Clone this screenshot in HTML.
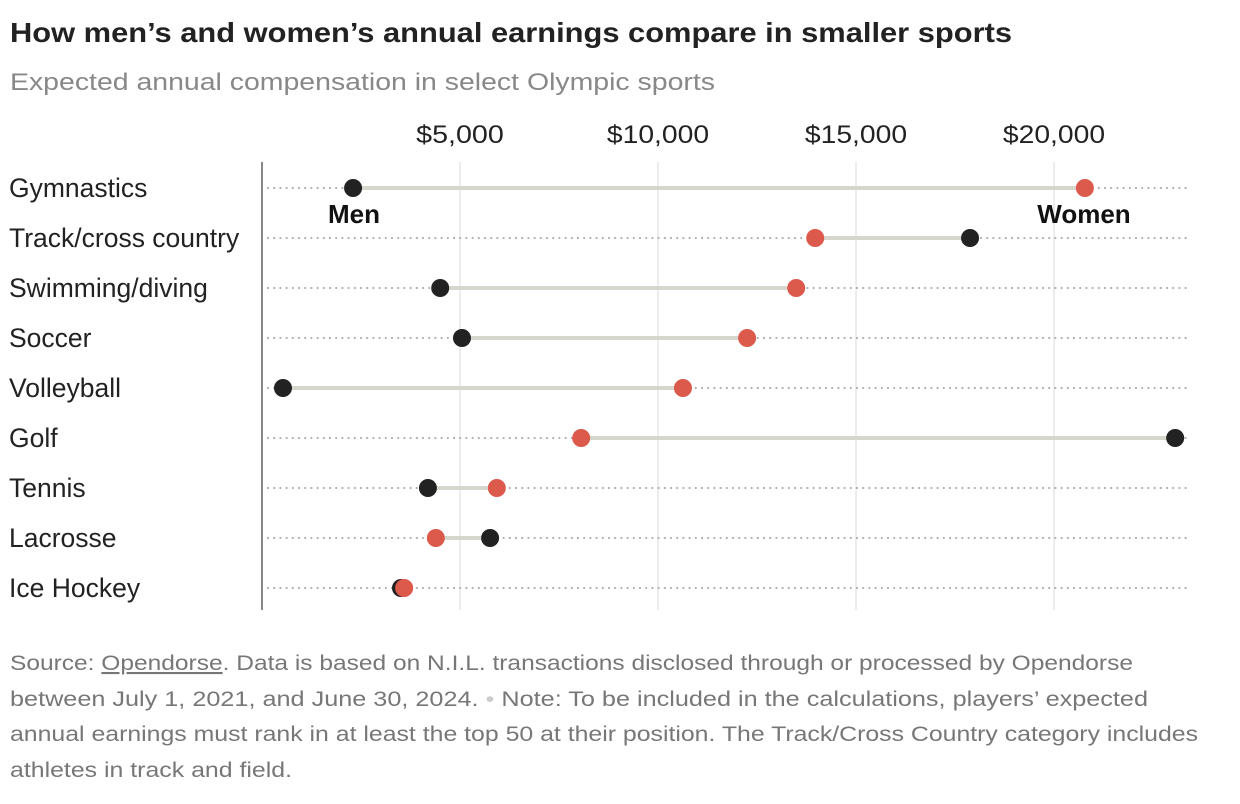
<!DOCTYPE html>
<html><head><meta charset="utf-8"><style>
body{margin:0;background:#fff;}
svg{display:block;font-family:"Liberation Sans",sans-serif;}
</style></head><body>
<svg id="chart" width="1240" height="804" viewBox="0 0 1240 804">
<text x="10" y="42" font-size="28" font-weight="bold" fill="#222" textLength="1002" lengthAdjust="spacingAndGlyphs">How men’s and women’s annual earnings compare in smaller sports</text>
<text x="10" y="90" font-size="24" fill="#888" textLength="705" lengthAdjust="spacingAndGlyphs">Expected annual compensation in select Olympic sports</text>
<g id="grid"></g><g id="rows"></g><g id="marks"></g>
<text x="354" y="223" font-size="26" font-weight="bold" fill="#111" text-anchor="middle">Men</text>
<text x="1084" y="223" font-size="26" font-weight="bold" fill="#111" text-anchor="middle">Women</text>
<g font-size="21" fill="#777">
<text x="10" y="670" textLength="1123" lengthAdjust="spacingAndGlyphs">Source: <tspan text-decoration="underline">Opendorse</tspan>. Data is based on N.I.L. transactions disclosed through or processed by Opendorse</text>
<text x="10" y="706" textLength="1138" lengthAdjust="spacingAndGlyphs">between July 1, 2021, and June 30, 2024. <tspan fill="#ccc">•</tspan> Note: To be included in the calculations, players’ expected</text>
<text x="10" y="741" textLength="1188" lengthAdjust="spacingAndGlyphs">annual earnings must rank in at least the top 50 at their position. The Track/Cross Country category includes</text>
<text x="10" y="777" textLength="282" lengthAdjust="spacingAndGlyphs">athletes in track and field.</text>
</g>
</svg>
<script>
const categories=["Gymnastics","Track/cross country","Swimming/diving","Soccer","Volleyball","Golf","Tennis","Lacrosse","Ice Hockey"];
const menValues=[2300,17880,4500,5050,530,23060,4190,5760,3510];
const womenValues=[20780,13970,13490,12250,10630,8060,5930,4390,3590];
const tickValues=[5000,10000,15000,20000];
const tickLabels=["$5,000","$10,000","$15,000","$20,000"];
const NS="http://www.w3.org/2000/svg";
const x=v=>262+v*0.0396;
const y=i=>188+i*50;
function mk(tag,attrs,parent,text){const e=document.createElementNS(NS,tag);for(const k in attrs)e.setAttribute(k,attrs[k]);if(text!==undefined)e.textContent=text;parent.appendChild(e);return e;}
const grid=document.getElementById('grid'),rows=document.getElementById('rows'),marks=document.getElementById('marks');
tickValues.forEach((t,i)=>{
 const l=mk('line',{x1:x(t),x2:x(t),y1:162,y2:610,stroke:'#e6e6e6','stroke-width':1.5},grid);
 
 
 const tx=mk('text',{x:x(t),y:143,'font-size':25,fill:'#222','text-anchor':'middle',textLength:tickLabels[i].length*14.6,lengthAdjust:'spacingAndGlyphs'},grid,tickLabels[i]);
 
 
});
const ax=mk('line',{x1:262,x2:262,y1:162,y2:610,stroke:'#888','stroke-width':2},grid);


categories.forEach((c,i)=>{
 const d=mk('line',{x1:268,x2:1186,y1:y(i),y2:y(i),stroke:'#b0b0b0','stroke-width':2.2,'stroke-dasharray':'0 6.2','stroke-linecap':'round'},rows);
 
 
 const t=mk('text',{x:9,y:y(i)+9,'font-size':26.5,fill:'#222'},rows,c);
 
 
 const a=menValues[i],b=womenValues[i];
 const cn=mk('line',{x1:x(Math.min(a,b)),x2:x(Math.max(a,b)),y1:y(i),y2:y(i),stroke:'#d6d6cc','stroke-width':4},marks);
 
 
 const m=mk('circle',{cx:x(a),cy:y(i),r:9,fill:'#222'},marks);
 
 
 const w=mk('circle',{cx:x(b),cy:y(i),r:9,fill:'#dc5a4b'},marks);
 
 
});
</script>
</body></html>
